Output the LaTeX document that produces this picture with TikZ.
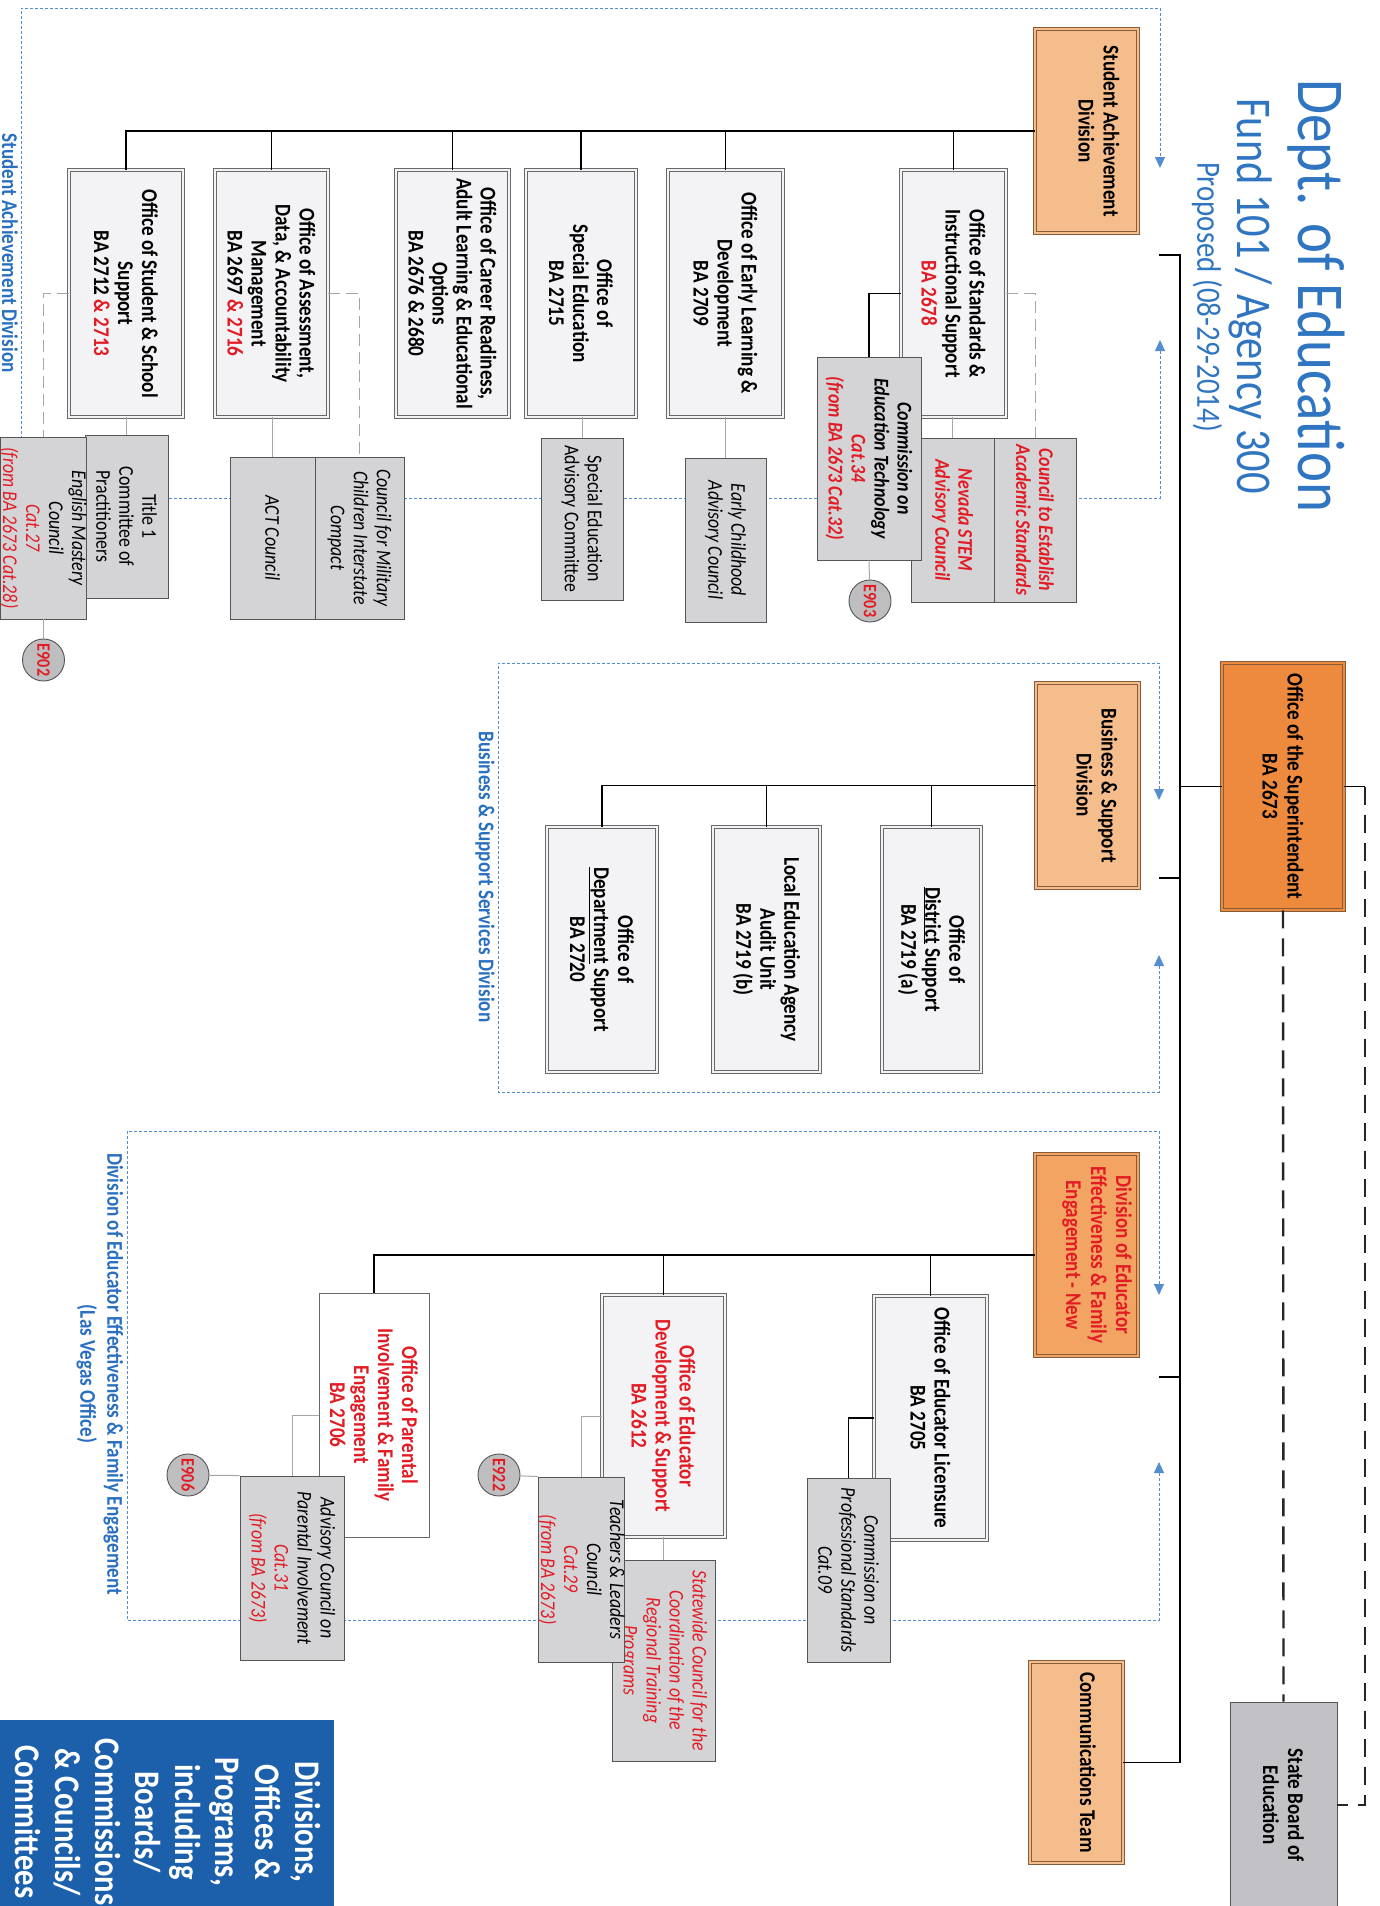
\documentclass[tikz,border=0pt]{standalone}
\usepackage{fontspec}
\setmainfont{Carlito}[FakeStretch=0.85]
\usetikzlibrary{arrows.meta}
\definecolor{titleblue}{RGB}{47,117,193}
\definecolor{labelblue}{RGB}{42,112,192}
\definecolor{frameblue}{RGB}{84,142,206}
\definecolor{redt}{RGB}{226,28,36}
\definecolor{divfill}{RGB}{245,188,140}
\definecolor{divborder}{RGB}{135,92,58}
\definecolor{edvfill}{RGB}{244,164,98}
\definecolor{suptfill}{RGB}{238,138,62}
\definecolor{offfill}{RGB}{243,243,245}
\definecolor{offborder}{RGB}{105,105,105}
\definecolor{cfill}{RGB}{212,212,215}
\definecolor{cborder}{RGB}{85,85,85}
\definecolor{sbefill}{RGB}{194,194,198}
\definecolor{circfill}{RGB}{190,190,192}
\definecolor{legfill}{RGB}{28,96,172}
\newcommand\rd[1]{\textcolor{redt}{#1}}
\newcommand\fsOff{\fontsize{22.5}{24}\selectfont\bfseries}
\newcommand\fsDiv{\fontsize{22.5}{25}\selectfont\bfseries}
\newcommand\fsCouncil{\fontsize{21}{23}\selectfont\itshape}
\newcommand\fsCouncilB{\fontsize{21}{23}\selectfont\bfseries\itshape}
\newcommand\fsCouncilUp{\fontsize{21}{23}\selectfont}
\newcommand\fsLbl{\fontsize{22.5}{27}\selectfont\bfseries}
\newcommand\fsCirc{\fontsize{19}{19}\selectfont\bfseries}
\newcommand\fsLeg{\fontsize{36}{40}\selectfont\bfseries}
\tikzset{
  rot/.style={rotate=-90},
  sz/.style 2 args={minimum height=#1, minimum width=#2},
  bx/.style={rot, inner sep=0pt, align=center},
  txt/.style={rot, inner sep=0pt, align=center},
  dbl/.style={double distance=2.2pt, line width=0.7pt},
  office/.style={bx, fill=offfill, draw=offborder, double=offfill, dbl, font=\fsOff},
  officeS/.style={bx, fill=white, draw=offborder, line width=0.9pt, font=\fsOff},
  divbox/.style={bx, fill=divfill, draw=divborder, double=divfill, dbl},
  council/.style={bx, fill=cfill, draw=cborder, line width=0.9pt, font=\fsCouncil},
  ecirc/.style={rot, circle, fill=circfill, draw=cborder, line width=0.9pt, minimum size=42pt, inner sep=0pt, text=redt, font=\fsCirc},
  frame/.style={draw=frameblue, line width=0.9pt, dash pattern=on 3pt off 2pt, {Triangle[length=11pt,width=10pt]}-{Triangle[length=11pt,width=10pt]}},
  blk/.style={draw=black, line width=1.8pt},
  gcon/.style={draw=gray!70, line width=1pt},
  gdash/.style={gcon, dash pattern=on 12pt off 6pt},
  bigdash/.style={draw=black!85, line width=2.4pt, dash pattern=on 18pt off 10pt},
  lbl/.style={rot, inner sep=0pt, text=labelblue, font=\fsLbl, align=center},
}
\begin{document}
\begin{tikzpicture}[x=1pt,y=-1pt]
\useasboundingbox (0,0) rectangle (1380,1906);
\clip (0,0) rectangle (1380,1906);
\fill[white] (0,0) rectangle (1380,1906);

% ---------- division frames ----------
\draw[frame] (1160,340) -- (1160,498) -- (21,498) -- (21,8) -- (1160,8) -- (1160,168);
\draw[frame] (1159,955) -- (1159,1092) -- (498,1092) -- (498,663) -- (1159,663) -- (1159,800);
\draw[frame] (1159,1462) -- (1159,1620) -- (127,1620) -- (127,1131) -- (1159,1131) -- (1159,1295);

\node[lbl] (lsa) at (10,253) {Student Achievement Division};
\node[lbl] (lbs) at (485,877) {Business \& Support Services Division};
\node[lbl] (led) at (100,1374) {Division of Educator Effectiveness \& Family Engagement\\(Las Vegas Office)};

% ---------- title ----------
\node[txt, text=titleblue, font=\fontsize{67}{70}\selectfont] (t1) at (1316,296) {Dept. of Education};
\node[txt, text=titleblue, font=\fontsize{50}{52}\selectfont] (t2) at (1251,296) {Fund 101 / Agency 300};
\node[txt, text=titleblue, font=\fontsize{34}{36}\selectfont] (t3) at (1207,297) {Proposed (08-29-2014)};

% ---------- Student Achievement ----------
\node[divbox, sz={103}{204}] (sad) at (1086.5,131) {};
\node[txt, font=\fsDiv] (sadt) at (1099,131) {Student Achievement\\Division};

\node[office, sz={105}{247}] (stds) at (953.5,293.5) {Office of Standards \&\\Instructional Support\\\rd{BA 2678}};
\node[office, sz={115}{247}] (early) at (725.5,293.5) {Office of Early Learning \&\\Development\\BA 2709};
\node[office, sz={110}{247}] (sped) at (581,293.5) {Office of\\Special Education\\BA 2715};
\node[office, sz={113}{247}] (career) at (452.5,293.5) {Office of Career Readiness,\\Adult Learning \& Educational\\Options\\BA 2676 \& 2680};
\node[office, sz={113}{247}] (assess) at (271.5,293.5) {Office of Assessment,\\Data, \& Accountability\\Management\\BA 2697 \rd{\& 2716}};
\node[office, sz={114}{247}] (stud) at (126,293.5) {Office of Student \& School\\Support\\BA 2712 \rd{\& 2713}};

\node[council, font=\fsCouncilB, text=redt, sz={83}{164}] (nev) at (952.5,520) {Nevada STEM\\Advisory Council};
\node[council, font=\fsCouncilB, text=redt, sz={82}{164}] (cte) at (1035,520) {Council to Establish\\Academic Standards};
\node[council, font=\fsCouncilB, sz={104}{203}] (ceta) at (869,458.5) {Commission on\\Education Technology\\\rd{Cat.34}\\\rd{(from BA 2673 Cat.32)}};
\node[council, sz={81}{164}] (ecac) at (725.5,540) {Early Childhood\\Advisory Council};
\node[council, font=\fsCouncilUp, sz={82}{162}] (seac) at (582,519) {Special Education\\Advisory Committee};
\node[council, sz={85}{162}] (act) at (272.5,538) {ACT Council};
\node[council, sz={89}{162}] (mil) at (359.5,538) {Council for Military\\Children Interstate\\Compact};
\node[council, font=\fsCouncilUp, sz={83}{163}] (t1c) at (126.5,516.5) {Title 1\\Committee of\\Practitioners};
\node[council, sz={83}{182}] (emc) at (43.5,528) {English Mastery\\Council\\\rd{Cat.27}\\\rd{(from BA 2673 Cat.28)}};
\node[ecirc] (e903) at (870,601) {E903};
\node[ecirc] (e902) at (43.5,660) {E902};

\draw[blk] (sad.south) -- (sad.south -| stud.west) -- (stud.west);
\foreach \n in {stds,early,sped,career,assess}
  \draw[blk] (\n.west) -- (\n.west |- sad.south);
\draw[blk, line width=1.5pt] (stds.south) -- (stds.south -| ceta.west) -- (ceta.west);
\draw[gcon] (nev.west |- stds.east) -- (nev.west);
\draw[gdash] (stds.north) -- (stds.north -| cte.west) -- (cte.west);
\draw[gcon] (ecac.west |- early.east) -- (ecac.west);
\draw[gcon] (seac.west |- sped.east) -- (seac.west);
\draw[gcon] (act.west |- assess.east) -- (act.west);
\draw[gdash] (assess.north) -- (assess.north -| mil.west) -- (mil.west);
\draw[gcon] (t1c.west |- stud.east) -- (t1c.west);
\draw[gdash] (stud.south) -- (stud.south -| emc.west) -- (emc.west);
\draw[gcon] (ceta.east) -- (e903);
\draw[gcon] (emc.east) -- (e902);

% ---------- Business & Support ----------
\node[divbox, sz={103}{205}] (bsd) at (1087.5,785.5) {};
\node[txt, font=\fsDiv] (bsdt) at (1097,785.5) {Business \& Support\\Division};
\node[office, sz={99}{245}] (dist) at (931.5,949.5) {Office of\\\underline{District} Support\\BA 2719 (a)};
\node[office, sz={107}{245}] (lea) at (766.5,949.5) {Local Education Agency\\Audit Unit\\BA 2719 (b)};
\node[office, sz={110}{245}] (dept) at (602,949.5) {Office of\\\underline{Department} Support\\BA 2720};
\draw[blk] (bsd.south) -- (bsd.south -| dept.west) -- (dept.west);
\draw[blk] (dist.west) -- (dist.west |- bsd.south);
\draw[blk] (lea.west) -- (lea.west |- bsd.south);

% ---------- Educator Effectiveness ----------
\node[divbox, fill=edvfill, double=edvfill, sz={103}{202}] (edv) at (1086.5,1255) {};
\node[txt, font=\fsDiv, text=redt] (edvt) at (1097,1255) {Division of Educator\\Effectiveness \& Family\\Engagement - New};
\node[office, sz={113}{244}] (lic) at (930.5,1418) {Office of Educator Licensure\\BA 2705};
\node[office, text=redt, sz={123}{242}] (edd) at (663.5,1416) {Office of Educator\\Development \& Support\\BA 2612};
\node[officeS, text=redt, sz={110}{244}] (par) at (374,1415) {Office of Parental\\Involvement \& Family\\Engagement\\BA 2706};

\node[council, text=redt, sz={103}{201}] (swc) at (663.5,1660.5) {Statewide Council for the\\Coordination of the\\Regional Training\\Programs};
\node[council, sz={83}{185}] (tlc) at (581.5,1569.5) {Teachers \& Leaders\\Council\\\rd{Cat.29}\\\rd{(from BA 2673)}};
\node[council, sz={83}{184}] (cps) at (848.5,1570) {Commission on\\Professional Standards\\Cat.09};
\node[council, sz={104}{184}] (apc) at (292,1568) {Advisory Council on\\Parental Involvement\\\rd{Cat.31}\\\rd{(from BA 2673)}};
\node[ecirc] (e922) at (499,1475) {E922};
\node[ecirc] (e906) at (188,1475) {E906};

\draw[blk] (edv.south) -- (edv.south -| par.west) -- (par.west);
\draw[blk] (lic.west) -- (lic.west |- edv.south);
\draw[blk] (edd.west) -- (edd.west |- edv.south);
\draw[blk, line width=1.2pt] (lic.south) -- (lic.south -| cps.west) -- (cps.west);
\draw[gcon] (edd.south) -- (edd.south -| tlc.west) -- (tlc.west);
\draw[gcon] (edd.east) -- (edd.east |- swc.west);
\draw[gcon] (par.south) -- (par.south -| apc.west) -- (apc.west);
\draw[gcon] (e922) -- (tlc.south west);
\draw[gcon] (e906) -- (apc.south west);

% ---------- top level ----------
\node[divbox, fill=suptfill, double=suptfill, sz={122}{247}, font=\fsDiv] (supt) at (1283,786.5) {Office of the Superintendent\\BA 2673};
\node[divbox, sz={93}{201}] (comm) at (1076.5,1762.5) {};
\node[txt, font=\fsDiv] (commt) at (1088,1762.5) {Communications Team};
\node[bx, fill=sbefill, draw=cborder, line width=0.9pt, sz={107}{206}, font=\fsDiv] (sbe) at (1283.5,1805) {State Board of\\Education};

\coordinate (trtop) at (1180,255);
\coordinate (sastub) at (1159,255);
\coordinate (bsstub) at (1159,878);
\coordinate (edstub) at (1159,1377);
\coordinate (rdash) at (1365,786.5);
\draw[blk] (sastub) -- (trtop) -- (trtop |- comm.north) -- (comm.north);
\draw[blk] (bsstub) -- (bsstub -| trtop);
\draw[blk] (edstub) -- (edstub -| trtop);
\draw[blk] (supt.south) -- (supt.south -| trtop);
\draw[blk] (supt.north) -- (rdash);
\draw[bigdash] (rdash) -- (rdash |- sbe.north) -- (sbe.north);
\draw[bigdash] (supt.east) -- (sbe.west);

% ---------- legend ----------
\node[bx, fill=legfill, sz={334}{192}] (leg) at (167,1816) {};
\node[txt, text=white, font=\fsLeg] (legt) at (167.5,1822) {Divisions,\\Offices \&\\Programs,\\including\\Boards/\\Commissions\\\& Councils/\\Committees};
\end{tikzpicture}
\end{document}
